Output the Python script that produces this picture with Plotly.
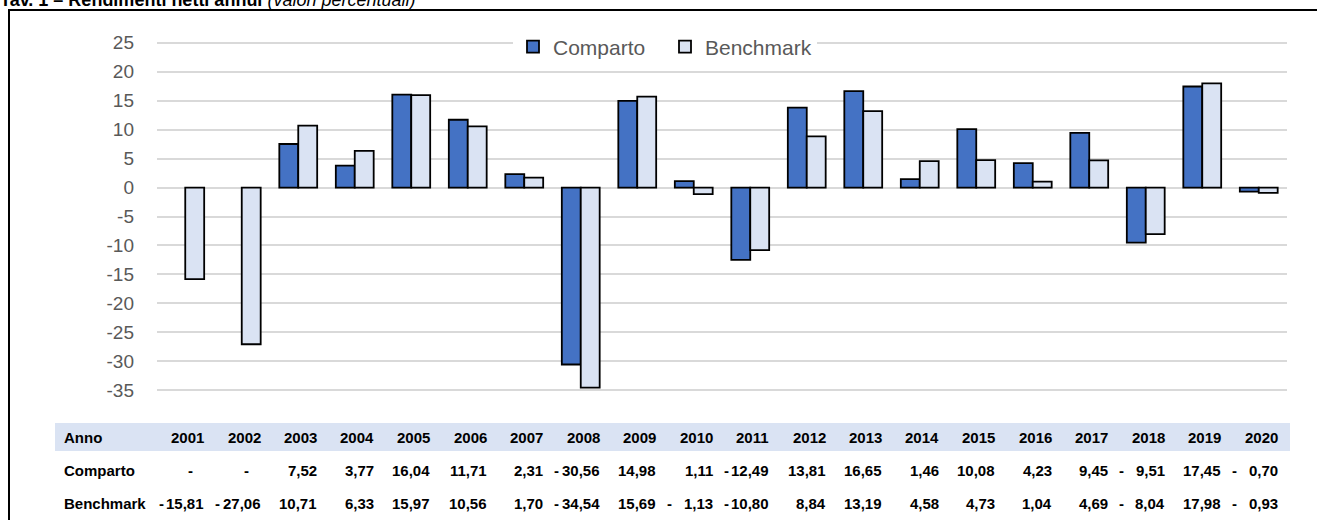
import plotly.graph_objects as go

years = [str(y) for y in range(2001, 2021)]
comparto = [None, None, 7.52, 3.77, 16.04, 11.71, 2.31, -30.56, 14.98, 1.11,
            -12.49, 13.81, 16.65, 1.46, 10.08, 4.23, 9.45, -9.51, 17.45, -0.70]
benchmark = [-15.81, -27.06, 10.71, 6.33, 15.97, 10.56, 1.70, -34.54, 15.69, -1.13,
             -10.80, 8.84, 13.19, 4.58, 4.73, 1.04, 4.69, -8.04, 17.98, -0.93]
tick_vals = list(range(-35, 30, 5))
tick_text = [str(v) for v in tick_vals]

W, H = 1317, 520
L, R, T, B = 157, 30, 37, 124
pw, ph = W - L - R, H - T - B

def py(p):
    return (H - B - p) / ph

def px(p):
    return (p - L) / pw

TABLE_FONT = dict(family="Liberation Sans", size=15, color="#000000")

fig = go.Figure()
fig.add_trace(go.Bar(x=years, y=comparto, name="Comparto",
                     marker=dict(color="#4472C4", line=dict(color="#000000", width=1.8))))
fig.add_trace(go.Bar(x=years, y=benchmark, name="Benchmark",
                     marker=dict(color="#DAE3F3", line=dict(color="#000000", width=1.8))))

ann = []
# title (mostly cut off at top)
ann.append(dict(text="<b>Tav. 1 – Rendimenti netti annui</b> <i>(valori percentuali)</i>",
                xref="paper", yref="paper", x=px(-2), y=py(12), xanchor="left", yanchor="bottom",
                showarrow=False, font=dict(family="Liberation Sans", size=18, color="#000000")))

rows = [("Anno", 437), ("Comparto", 470), ("Benchmark", 504)]
for lab, yy in rows:
    ann.append(dict(text="<b>%s</b>" % lab, xref="paper", yref="paper", x=px(62), y=py(yy),
                    xanchor="left", yanchor="middle", showarrow=False, font=TABLE_FONT))

def fmt(v):
    return ("%.2f" % abs(v)).replace(".", ",")

for i, yr in enumerate(years):
    ann.append(dict(text="<b>%s</b>" % yr, xref="x", yref="paper", x=i, y=py(437),
                    xanchor="right", yanchor="middle", xshift=21, showarrow=False, font=TABLE_FONT))
    for vals, yy in ((comparto, 470), (benchmark, 504)):
        v = vals[i]
        if v is None:
            ann.append(dict(text="<b>-</b>", xref="x", yref="paper", x=i, y=py(yy),
                            xanchor="center", yanchor="middle", xshift=5, showarrow=False, font=TABLE_FONT))
            continue
        ann.append(dict(text="<b>%s</b>" % fmt(v), xref="x", yref="paper", x=i, y=py(yy),
                        xanchor="right", yanchor="middle", xshift=21, showarrow=False, font=TABLE_FONT))
        if v < 0:
            ann.append(dict(text="<b>-</b>", xref="x", yref="paper", x=i, y=py(yy),
                            xanchor="center", yanchor="middle", xshift=-24, showarrow=False, font=TABLE_FONT))

shapes = [
    dict(type="rect", xref="paper", yref="paper", x0=px(55), x1=px(1290), y0=py(451), y1=py(423),
         fillcolor="#DAE3F3", line=dict(width=0), layer="below"),
    dict(type="rect", xref="paper", yref="paper", x0=px(9), x1=px(1330), y0=py(10), y1=py(540),
         fillcolor="rgba(0,0,0,0)", line=dict(color="#000000", width=2)),
]

fig.update_layout(
    width=W, height=H,
    margin=dict(l=L, r=R, t=T, b=B),
    paper_bgcolor="white", plot_bgcolor="white",
    barmode="group", bargap=0.33, bargroupgap=0,
    showlegend=True,
    legend=dict(orientation="h", x=px(513), y=py(47), xanchor="left", yanchor="middle",
                bgcolor="white", font=dict(family="Liberation Sans", size=21, color="#595959"),
                itemwidth=30, entrywidth=107, traceorder="normal"),
    xaxis=dict(type="category", range=[-0.5, 19.5], showticklabels=False, showgrid=False,
               zeroline=False, showline=False, ticks=""),
    yaxis=dict(range=[-36, 26], tickvals=tick_vals, ticktext=tick_text, showgrid=True,
               gridcolor="#D9D9D9", gridwidth=1.5,
               zeroline=True, zerolinecolor="#D9D9D9", zerolinewidth=1.5, showline=False,
               tickfont=dict(family="Liberation Sans", size=19, color="#595959"),
               ticklabelstandoff=22),
    annotations=ann, shapes=shapes,
)

fig.write_html("out.html", config={"displayModeBar": False},
               post_script="document.body.style.margin='0';")
